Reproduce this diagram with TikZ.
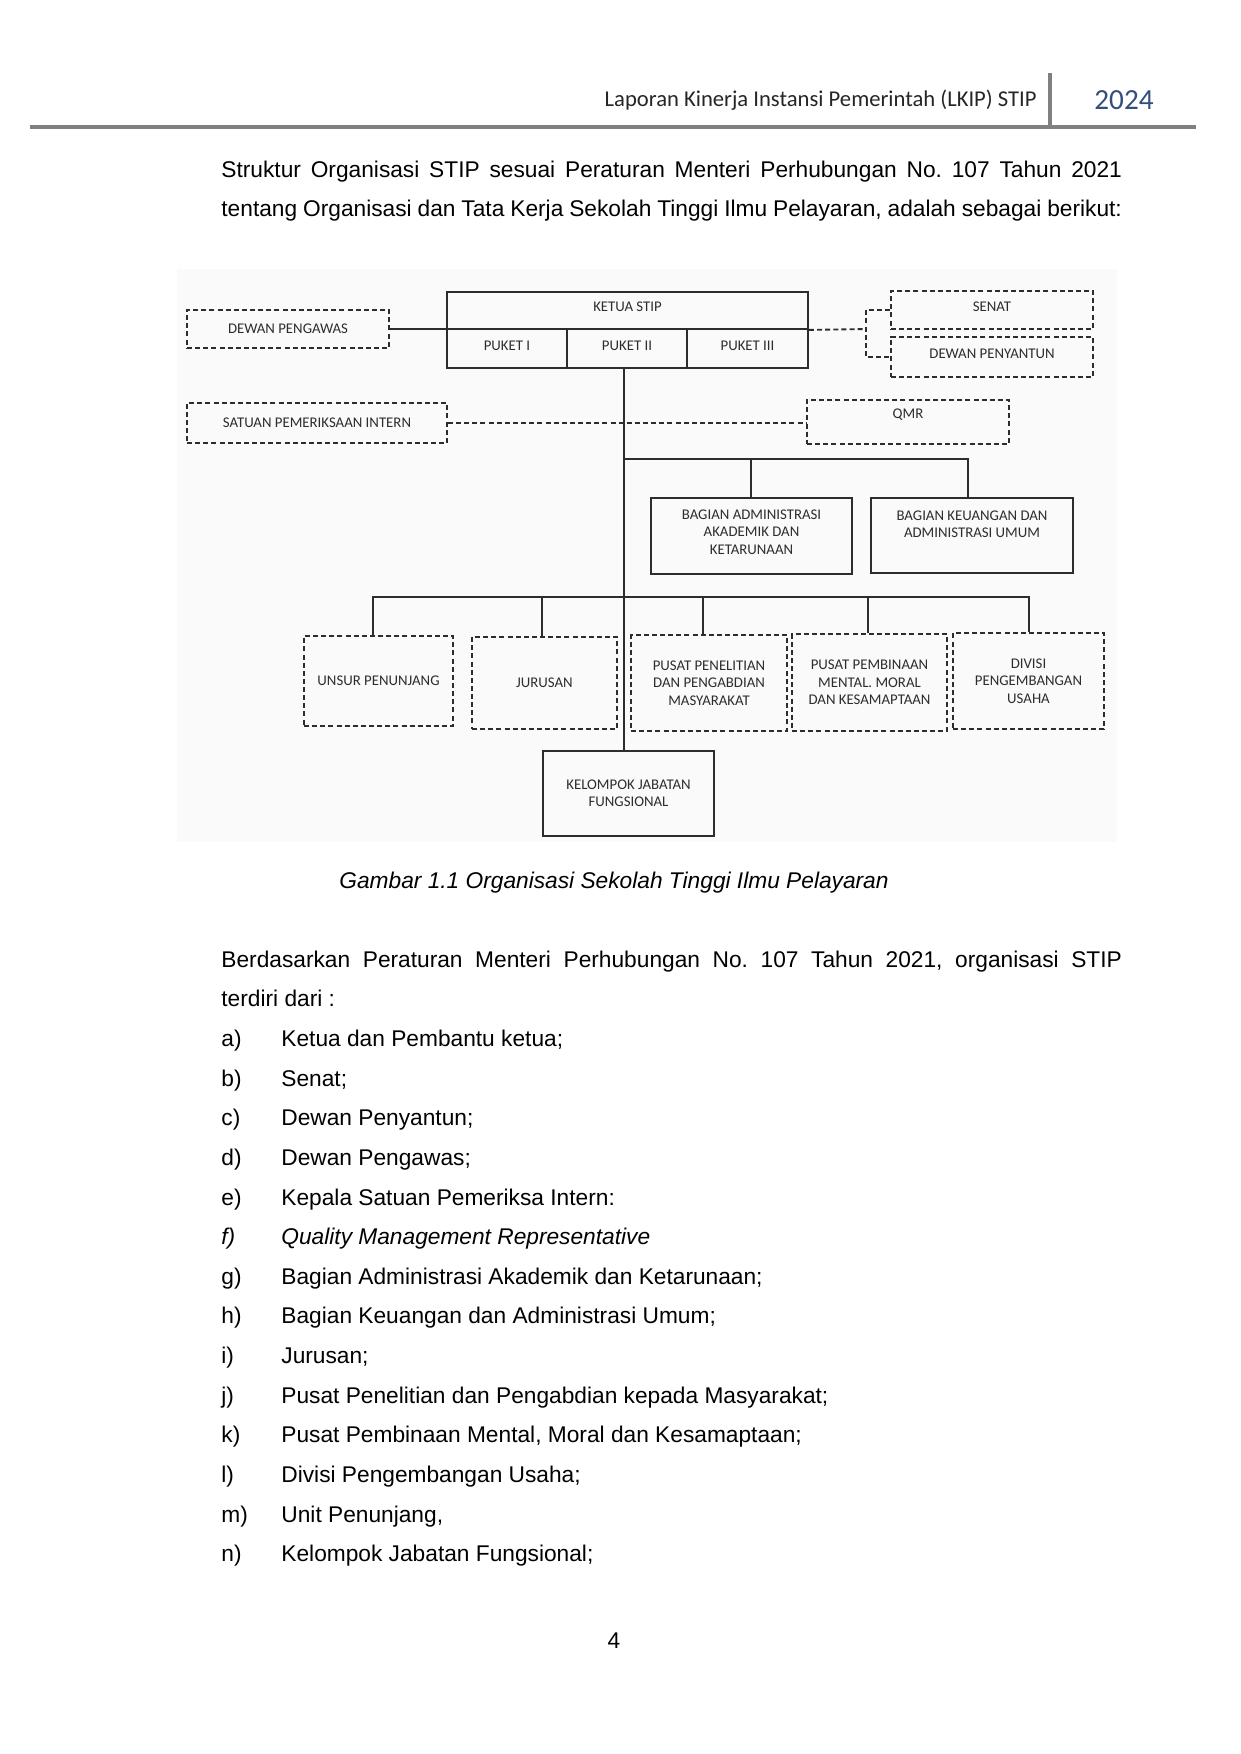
\documentclass[tikz,border=0pt]{standalone}
\usepackage{fontspec}
\setmainfont{Liberation Sans}
\newfontfamily\calfont{Carlito}
\definecolor{hdrblue}{RGB}{52,78,125}
\definecolor{ink}{RGB}{45,45,45}
\definecolor{rulegray}{RGB}{128,128,128}
\newcommand\diafont{\calfont\fontsize{7.1}{8.3}\selectfont}
\newcommand\bodyfont{\fontsize{10.9}{13}\selectfont}
\newcommand\obox[7]{\node[#6,minimum width={(#4-#2)*0.4797pt},minimum height={(#5-#3)*0.4797pt}] (#1) at ({(#2+#4)/2},{(#3+#5)/2}) {#7};}
\frenchspacing
\begin{document}
\begin{tikzpicture}[x=0.4797pt,y=-0.4797pt,
  solidbox/.style={draw=ink,line width=0.9pt,inner sep=0pt,align=center,font=\diafont,text=ink},
  dashbox/.style={solidbox,dash pattern=on 2.4pt off 1.5pt},
  ln/.style={draw=ink,line width=0.9pt},
  dln/.style={ln,dash pattern=on 2.4pt off 1.5pt},
  txt/.style={font=\bodyfont,inner sep=0pt,anchor=west,text height=8pt,text depth=2.3pt},
  dtxt/.style={font=\diafont,text=ink,inner sep=0pt,align=center}]
\useasboundingbox (0,0) rectangle (1241,1754);
\fill[white] (0,0) rectangle (1241,1754);
% header
\draw[rulegray,line width=2.2pt] (30,127) -- (1196,127);
\draw[rulegray,line width=1.5pt] (1050,73) -- (1050,126);
\node[font=\calfont\fontsize{10.85}{12}\selectfont,anchor=east,inner sep=0pt,text=black!85] (hdr) at (1037,100) {Laporan Kinerja Instansi Pemerintah (LKIP) STIP};
\node[font=\calfont\fontsize{14}{16}\selectfont,inner sep=0pt,text=hdrblue] (year) at (1124,100) {2024};
% paragraph 1
\node[txt] (p1a) at (221,171.5) {\makebox[432pt][s]{Struktur Organisasi STIP sesuai Peraturan Menteri Perhubungan No. 107 Tahun 2021}};
\node[txt] (p1b) at (221,210.5) {\makebox[432pt][s]{tentang Organisasi dan Tata Kerja Sekolah Tinggi Ilmu Pelayaran, adalah sebagai berikut:}};
% diagram background
\fill[black!2] (177,269) rectangle (1117,842);
% boxes
\obox{dp}{187}{310}{389}{348}{dashbox}{DEWAN PENGAWAS}
\obox{ketua}{447}{292}{808}{329}{solidbox}{}
\node[dtxt] (ketuatxt) at (627.5,307) {KETUA STIP};
\obox{puket1}{447}{329}{567}{368}{solidbox}{}
\obox{puket2}{567}{329}{687}{368}{solidbox}{}
\obox{puket3}{687}{329}{808}{368}{solidbox}{}
\node[dtxt] (p1txt) at (507,346) {PUKET I};
\node[dtxt] (p2txt) at (627,346) {PUKET II};
\node[dtxt] (p3txt) at (747.5,346) {PUKET III};
\obox{senat}{891}{291}{1093}{329}{dashbox}{}
\node[dtxt] (senattxt) at (992,306.5) {SENAT};
\obox{penyantun}{891}{337}{1093}{377}{dashbox}{}
\node[dtxt] (penytxt) at (992,353.5) {DEWAN PENYANTUN};
\obox{spi}{187}{403}{447}{443}{dashbox}{SATUAN PEMERIKSAAN INTERN}
\obox{qmr}{807}{400}{1009}{444}{dashbox}{}
\node[dtxt] (qmrtxt) at (908,414.5) {QMR};
\obox{adm}{651}{498}{852}{574}{solidbox}{}
\node[dtxt] (admtxt) at (751.5,532) {BAGIAN ADMINISTRASI\\AKADEMIK DAN\\KETARUNAAN};
\obox{keu}{871}{498}{1073}{573}{solidbox}{}
\node[dtxt] (keutxt) at (972,524.5) {BAGIAN KEUANGAN DAN\\ADMINISTRASI UMUM};
\obox{unsur}{304}{636}{453}{726}{dashbox}{UNSUR PENUNJANG}
\obox{jurusan}{472}{637}{617}{729}{dashbox}{JURUSAN}
\obox{pusatp}{631}{635}{787}{731}{dashbox}{PUSAT PENELITIAN\\DAN PENGABDIAN\\MASYARAKAT}
\obox{pembinaan}{792}{634}{947}{731}{dashbox}{PUSAT PEMBINAAN\\MENTAL. MORAL\\DAN KESAMAPTAAN}
\obox{divisi}{953}{633}{1104}{729}{dashbox}{DIVISI\\PENGEMBANGAN\\USAHA}
\obox{kjf}{543}{751}{714}{836}{solidbox}{KELOMPOK JABATAN\\FUNGSIONAL}
% connectors
\draw[ln] (dp.east) -- (dp.east -| ketua.west);
\coordinate (jn) at (866,329);
\draw[dln] (ketua.south east) -- (jn);
\draw[dln] (senat.west) -| (jn) |- (penyantun.west);
\draw[dln] (spi.east) -- (spi.east -| qmr.west);
\coordinate (h1) at (624,459);
\coordinate (h1a) at (751,459);
\coordinate (h1b) at (968,459);
\draw[ln] (puket2.south -| h1) -- (kjf.north -| h1);
\draw[ln] (h1) -- (h1b) -- (keu.north -| h1b);
\draw[ln] (h1a) -- (adm.north -| h1a);
\coordinate (c1) at (373,597);
\coordinate (c2) at (542,597);
\coordinate (c3) at (703,597);
\coordinate (c4) at (868,597);
\coordinate (c5) at (1029,597);
\draw[ln] (unsur.north -| c1) -- (c1) -- (c5) -- (divisi.north -| c5);
\draw[ln] (c2) -- (jurusan.north -| c2);
\draw[ln] (c3) -- (pusatp.north -| c3);
\draw[ln] (c4) -- (pembinaan.north -| c4);
% caption
\node[font=\bodyfont\itshape,inner sep=0pt] (cap) at (614,882.5) {Gambar 1.1 Organisasi Sekolah Tinggi Ilmu Pelayaran};
% paragraph 2
\node[txt] (p2a) at (221,962) {\makebox[432pt][s]{Berdasarkan Peraturan Menteri Perhubungan No. 107 Tahun 2021, organisasi STIP}};
\node[txt] (p2b) at (221,1001) {terdiri dari :};
% list
\node[txt] (la) at (221,1040.5) {a)}; \node[txt] (ta) at (281,1040.5) {Ketua dan Pembantu ketua;};
\node[txt] (lb) at (221,1080.1) {b)}; \node[txt] (tb) at (281,1080.1) {Senat;};
\node[txt] (lc) at (221,1119.8) {c)}; \node[txt] (tc) at (281,1119.8) {Dewan Penyantun;};
\node[txt] (ld) at (221,1159.4) {d)}; \node[txt] (td) at (281,1159.4) {Dewan Pengawas;};
\node[txt] (le) at (221,1199.1) {e)}; \node[txt] (te) at (281,1199.1) {Kepala Satuan Pemeriksa Intern:};
\node[txt,font=\bodyfont\itshape] (lf) at (221,1238.7) {f)}; \node[txt,font=\bodyfont\itshape] (tf) at (281,1238.7) {Quality Management Representative};
\node[txt] (lg) at (221,1278.4) {g)}; \node[txt] (tg) at (281,1278.4) {Bagian Administrasi Akademik dan Ketarunaan;};
\node[txt] (lh) at (221,1318.0) {h)}; \node[txt] (th) at (281,1318.0) {Bagian Keuangan dan Administrasi Umum;};
\node[txt] (li) at (221,1357.7) {i)}; \node[txt] (ti) at (281,1357.7) {Jurusan;};
\node[txt] (lj) at (221,1397.3) {j)}; \node[txt] (tj) at (281,1397.3) {Pusat Penelitian dan Pengabdian kepada Masyarakat;};
\node[txt] (lk) at (221,1437.0) {k)}; \node[txt] (tk) at (281,1437.0) {Pusat Pembinaan Mental, Moral dan Kesamaptaan;};
\node[txt] (ll) at (221,1476.6) {l)}; \node[txt] (tl) at (281,1476.6) {Divisi Pengembangan Usaha;};
\node[txt] (lm) at (221,1516.3) {m)}; \node[txt] (tm) at (281,1516.3) {Unit Penunjang,};
\node[txt] (ln) at (221,1556) {n)}; \node[txt] (tn) at (281,1556) {Kelompok Jabatan Fungsional;};
% page number
\node[font=\bodyfont,inner sep=0pt] (pg) at (614,1641) {4};
\end{tikzpicture}
\end{document}
